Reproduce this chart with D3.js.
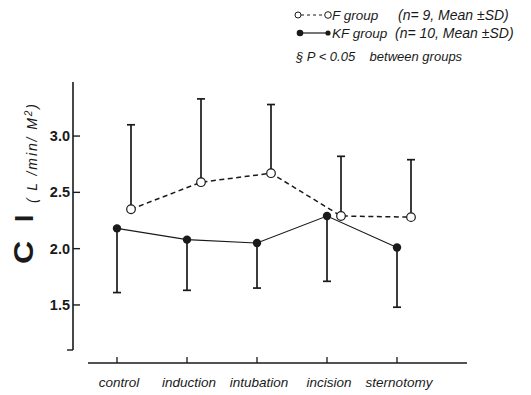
<!DOCTYPE html>
<html>
<head>
<meta charset="utf-8">
<script src="https://cdn.jsdelivr.net/npm/d3@7/dist/d3.min.js"></script>
<style>
  html, body { margin: 0; padding: 0; background: #fff; }
  svg { display: block; }
  text { font-family: "Liberation Sans", Arial, sans-serif; fill: #1a1a1a; }
</style>
</head>
<body>
<svg id="chart" width="531" height="395"></svg>
<script>
// Time points of the study
const categories = ["control", "induction", "intubation", "incision", "sternotomy"];

// F group: mean and SD (n = 9)
const fMean = [2.35, 2.59, 2.67, 2.29, 2.28];
const fSD   = [0.75, 0.74, 0.61, 0.53, 0.51];

// KF group: mean and SD (n = 10)
const kfMean = [2.18, 2.08, 2.05, 2.29, 2.01];
const kfSD   = [0.57, 0.45, 0.40, 0.58, 0.53];

// Y axis ticks
const yTicks = [1.5, 2.0, 2.5, 3.0];
const yDomain = [1.1, 3.48];

const svg = d3.select("#chart");

const x = d3.scalePoint().domain(categories).range([117, 397]);
const y = d3.scaleLinear().domain(yDomain).range([350, 82]);
const fShift = 14;   // F group drawn slightly to the right of each tick

const ink = "#1a1a1a";

// ---- Y axis ----
const yAxis = svg.append("g");
yAxis.append("line")
  .attr("x1", 73).attr("x2", 73)
  .attr("y1", y(yDomain[1])).attr("y2", y(yDomain[0]))
  .attr("stroke", ink).attr("stroke-width", 1.6);
yAxis.append("line")
  .attr("x1", 67).attr("x2", 73)
  .attr("y1", y(yDomain[0])).attr("y2", y(yDomain[0]))
  .attr("stroke", ink).attr("stroke-width", 1.4);
yAxis.selectAll(".yt").data(yTicks).enter().append("line")
  .attr("x1", 73).attr("x2", 80)
  .attr("y1", d => y(d)).attr("y2", d => y(d))
  .attr("stroke", ink).attr("stroke-width", 1.4);
yAxis.selectAll(".yl").data(yTicks).enter().append("text")
  .attr("x", 70).attr("y", d => y(d) + 5)
  .attr("text-anchor", "end")
  .style("font-size", "14.5px").style("font-weight", "bold")
  .text(d => d3.format(".1f")(d));

// ---- X axis ----
const xAxis = svg.append("g").attr("transform", "translate(0,363)");
xAxis.append("line")
  .attr("x1", 88).attr("x2", 467).attr("y1", 0).attr("y2", 0)
  .attr("stroke", ink).attr("stroke-width", 1.4);
xAxis.selectAll(".xt").data(categories).enter().append("line")
  .attr("x1", d => x(d)).attr("x2", d => x(d))
  .attr("y1", 0).attr("y2", -6)
  .attr("stroke", ink).attr("stroke-width", 1.3);
xAxis.selectAll(".xl").data(categories).enter().append("text")
  .attr("x", d => x(d) + 2).attr("y", 24)
  .attr("text-anchor", "middle")
  .style("font-size", "13.5px").style("font-style", "italic")
  .text(d => d);

// ---- Y title ----
const title = svg.append("g").attr("transform", "translate(33,264) rotate(-90)");
title.append("text")
  .attr("transform", "scale(1.15,1)")
  .style("font-size", "28px").style("font-weight", "bold")
  .text("C");
title.append("text")
  .attr("x", 42)
  .style("font-size", "26px").style("font-weight", "bold")
  .text("I");
const unit = svg.append("text")
  .attr("transform", "translate(37,203) rotate(-90)")
  .style("font-size", "14px").style("font-style", "italic")
  .style("letter-spacing", "1.9px");
unit.append("tspan").text("( L /min/ M");
unit.append("tspan").attr("dy", -5).style("font-size", "10px").text("2");
unit.append("tspan").attr("dy", 5).text(")");

// ---- Error bars ----
const cap = 4;
function errorBars(mean, sd, dir, shift) {
  const g = svg.append("g").attr("stroke", ink).attr("stroke-width", 1.7);
  categories.forEach((c, i) => {
    const cx = x(c) + shift;
    const end = y(mean[i] + dir * sd[i]);
    g.append("line").attr("x1", cx).attr("x2", cx)
      .attr("y1", y(mean[i])).attr("y2", end);
    g.append("line").attr("x1", cx - cap).attr("x2", cx + cap)
      .attr("y1", end).attr("y2", end);
  });
}
errorBars(fMean, fSD, 1, fShift);
errorBars(kfMean, kfSD, -1, 0);

// ---- Lines ----
const lineF = d3.line().x((d, i) => x(categories[i]) + fShift).y(d => y(d));
const lineKF = d3.line().x((d, i) => x(categories[i])).y(d => y(d));
svg.append("path").datum(fMean).attr("d", lineF)
  .attr("fill", "none").attr("stroke", ink)
  .attr("stroke-width", 1.5).attr("stroke-dasharray", "5,3.5");
svg.append("path").datum(kfMean).attr("d", lineKF)
  .attr("fill", "none").attr("stroke", ink).attr("stroke-width", 1.1);

// ---- Points ----
svg.selectAll(".pf").data(fMean).enter().append("circle")
  .attr("cx", (d, i) => x(categories[i]) + fShift).attr("cy", d => y(d))
  .attr("r", 4.3).attr("fill", "#fff").attr("stroke", ink).attr("stroke-width", 1.2);
svg.selectAll(".pk").data(kfMean).enter().append("circle")
  .attr("cx", (d, i) => x(categories[i])).attr("cy", d => y(d))
  .attr("r", 4.2).attr("fill", ink);

// ---- Legend ----
const lg = svg.append("g");
lg.append("line").attr("x1", 301).attr("x2", 325).attr("y1", 15).attr("y2", 15)
  .attr("stroke", ink).attr("stroke-width", 1.1).attr("stroke-dasharray", "3,3");
lg.append("circle").attr("cx", 298).attr("cy", 15).attr("r", 3)
  .attr("fill", "#fff").attr("stroke", ink).attr("stroke-width", 1);
lg.append("circle").attr("cx", 328).attr("cy", 15).attr("r", 3.3)
  .attr("fill", "#fff").attr("stroke", ink).attr("stroke-width", 1);
lg.append("text").attr("x", 332).attr("y", 20)
  .style("font-size", "13.5px").style("font-style", "italic").text("F group");
lg.append("text").attr("x", 398).attr("y", 20)
  .style("font-size", "14px").style("font-style", "italic").text("(n= 9, Mean ±SD)");

lg.append("line").attr("x1", 300).attr("x2", 328).attr("y1", 33).attr("y2", 33)
  .attr("stroke", ink).attr("stroke-width", 1.2);
lg.append("circle").attr("cx", 300).attr("cy", 33).attr("r", 3.3).attr("fill", ink);
lg.append("circle").attr("cx", 328).attr("cy", 33).attr("r", 2.6).attr("fill", ink);
lg.append("text").attr("x", 332).attr("y", 38)
  .style("font-size", "13.5px").style("font-style", "italic").text("KF group");
lg.append("text").attr("x", 395).attr("y", 38)
  .style("font-size", "14px").style("font-style", "italic").text("(n= 10, Mean ±SD)");

lg.append("text").attr("x", 296).attr("y", 61)
  .style("font-size", "13px").style("font-style", "italic")
  .attr("xml:space", "preserve").style("white-space", "pre")
  .text("§ P < 0.05    between groups");
</script>
</body>
</html>
